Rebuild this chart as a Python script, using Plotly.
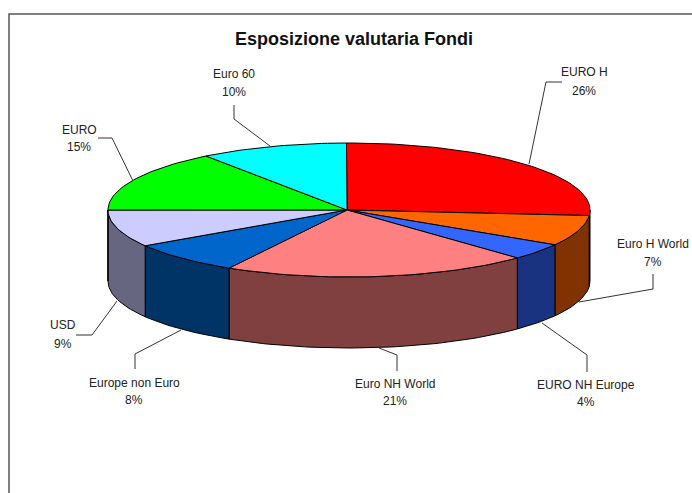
import numpy as np
import plotly.graph_objects as go

categories = ["EURO H", "Euro H World", "EURO NH Europe", "Euro NH World",
              "Europe non Euro", "USD", "EURO", "Euro 60"]
values = [26.49, 7.37, 4.0, 20.6, 7.75, 8.95, 14.9, 9.94]
top_colors = ["#FF0000", "#FF6600", "#3366FF", "#FF8080",
              "#0066CC", "#CCCCFF", "#00FF00", "#00FFFF"]
side_colors = ["#800000", "#803300", "#1A3380", "#804040",
               "#003366", "#666680", "#008000", "#008080"]

# label name-line centre (x, y), percent-line y, leader polyline (pixels of the 692x493 page)
label_pos = {
    "EURO H": (584, 72, 91, [(562, 82), (546, 82), (529, 164)]),
    "Euro H World": (653, 244, 262, [(653, 274), (653, 289), (579, 302)]),
    "EURO NH Europe": (586, 385, 402, [(587, 372), (587, 355), (542, 323)]),
    "Euro NH World": (395, 384, 401, [(397, 371), (397, 355), (379, 348)]),
    "Europe non Euro": (134, 383, 400, [(135, 369), (135, 354), (181, 330)]),
    "USD": (63, 325, 344, [(76, 335), (92, 335), (117, 301)]),
    "EURO": (79, 130, 147, [(98, 138), (112, 138), (133, 181)]),
    "Euro 60": (234, 74, 92, [(234, 105), (234, 119), (270, 146)]),
}

CX, CY, RX, RY, DEPTH = 349, 210, 241, 67, 71
APEX_X = 347
ROT = -0.6


def rim(a0, a1, dy=0.0):
    n = max(2, int(abs(a1 - a0) / 1.5) + 2)
    t = np.radians(np.linspace(a0, a1, n))
    return CX + RX * np.sin(t), CY - RY * np.cos(t) + dy


fig = go.Figure()
edges = np.concatenate([[0], np.cumsum(values)]) * 360.0 / sum(values) + ROT

# side walls (only the front half of the cylinder is visible)
for i, name in enumerate(categories):
    a0, a1 = max(edges[i], 90.0), min(edges[i + 1], 270.0)
    if a1 <= a0:
        continue
    xt, yt = rim(a0, a1)
    xb, yb = rim(a1, a0, DEPTH)
    fig.add_trace(go.Scatter(
        x=np.concatenate([xt, xb, xt[:1]]), y=np.concatenate([yt, yb, yt[:1]]),
        mode="lines", fill="toself", fillcolor=side_colors[i],
        line=dict(color="#000000", width=1), name=name + " side", hoverinfo="skip"))

# top faces
for i, name in enumerate(categories):
    xt, yt = rim(edges[i], edges[i + 1])
    fig.add_trace(go.Scatter(
        x=np.concatenate([[APEX_X], xt, [APEX_X]]), y=np.concatenate([[CY], yt, [CY]]),
        mode="lines", fill="toself", fillcolor=top_colors[i],
        line=dict(color="#000000", width=1), name=name,
        hovertemplate=f"{name}: {values[i]:.0f}%<extra></extra>"))

annotations = [dict(x=354, y=39, text="<b>Esposizione valutaria Fondi</b>",
                    showarrow=False, font=dict(size=18, color="#111111"))]
shapes = [
    dict(type="path", path="M 9 493 L 9 14 L 692 14",
         line=dict(color="#555555", width=1.5)),
]
for name, v in zip(categories, values):
    x, y1, y2, leader = label_pos[name]
    annotations.append(dict(x=x, y=y1, text=name, showarrow=False,
                            font=dict(size=12, color="#222222")))
    annotations.append(dict(x=x, y=y2, text=f"{v:.0f}%", showarrow=False,
                            font=dict(size=12, color="#222222")))
    path = "M " + " L ".join(f"{px} {py}" for px, py in leader)
    shapes.append(dict(type="path", path=path, line=dict(color="#333333", width=1)))

fig.update_layout(
    width=692, height=493, margin=dict(l=0, r=0, t=0, b=0),
    paper_bgcolor="white", plot_bgcolor="white", showlegend=False,
    font=dict(family="Liberation Sans, Arial, sans-serif"),
    xaxis=dict(range=[0, 692], visible=False, fixedrange=True),
    yaxis=dict(range=[493, 0], visible=False, fixedrange=True),
    annotations=annotations, shapes=shapes,
)
fig.write_html("out.html", config={"displayModeBar": False},
               post_script="document.body.style.margin='0';document.body.style.overflow='hidden';")
